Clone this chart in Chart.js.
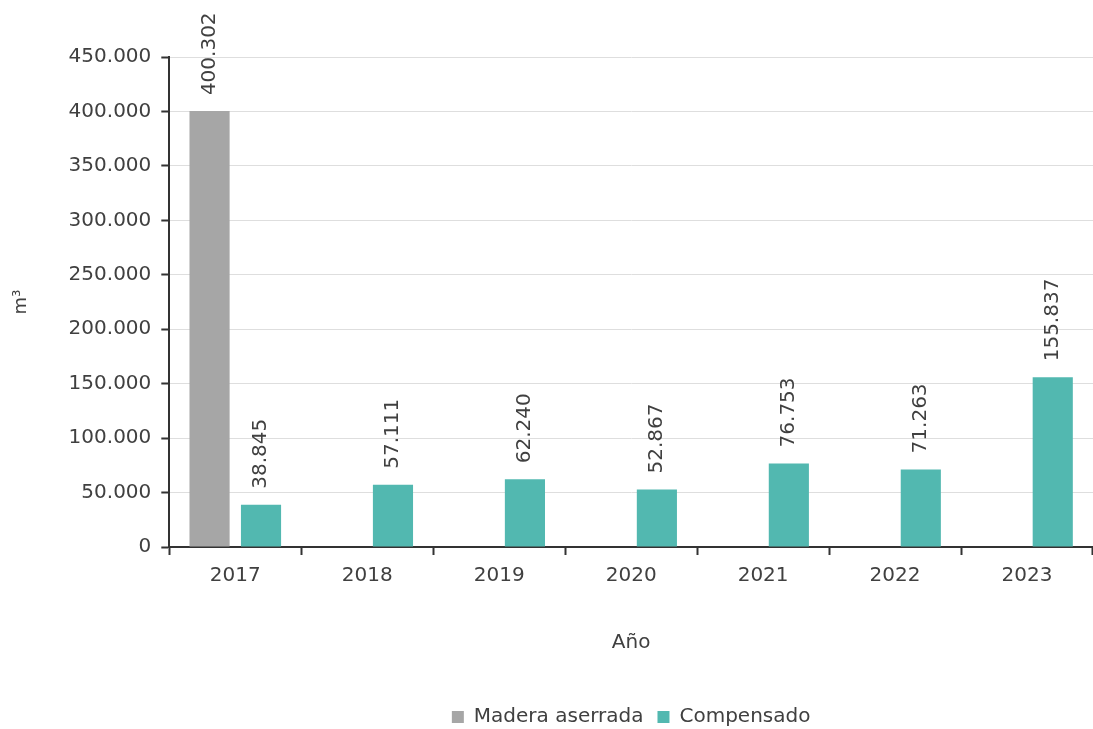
<!DOCTYPE html>
<html>
<head>
<meta charset="utf-8">
<script src="https://cdn.jsdelivr.net/npm/chart.js@4/dist/chart.umd.min.js"></script>
<style>
  html, body { margin: 0; padding: 0; background: #fff; }
  #wrap { width: 1093px; height: 729px; }
</style>
</head>
<body>
<div id="wrap"><canvas id="myChart"></canvas></div>
<script>
var years = ["2017", "2018", "2019", "2020", "2021", "2022", "2023"];
var maderaValues = [400302, null, null, null, null, null, null];
var compensadoValues = [38845, 57111, 62240, 52867, 76753, 71263, 155837];

var textColor = '#404040';
var fontName = "'DejaVu Sans', sans-serif";

function fmt(v) {
    return String(v).replace(/\B(?=(\d{3})+(?!\d))/g, '.');
}

// rotated value labels above each bar
var barLabels = {
    id: 'barLabels',
    afterDatasetsDraw: function (chart) {
        var ctx = chart.ctx;
        chart.data.datasets.forEach(function (ds, i) {
            var meta = chart.getDatasetMeta(i);
            meta.data.forEach(function (bar, j) {
                var v = ds.data[j];
                if (v === null || v === undefined) return;
                ctx.save();
                ctx.translate(bar.x, bar.y - 16);
                ctx.rotate(-Math.PI / 2);
                ctx.font = '20px ' + fontName;
                ctx.fillStyle = textColor;
                ctx.textAlign = 'left';
                ctx.textBaseline = 'middle';
                ctx.fillText(fmt(v), 0, 0);
                ctx.restore();
            });
        });
    }
};

// centre the legend under the plot area instead of the whole canvas
var legendUnderPlot = {
    id: 'legendUnderPlot',
    afterLayout: function (chart) {
        if (chart.legend) {
            chart.legend.left = chart.chartArea.left;
            chart.legend.right = chart.chartArea.right;
        }
    }
};

new Chart("myChart", {
    type: "bar",
    data: {
        labels: years,
        datasets: [{
            label: "Madera aserrada",
            backgroundColor: '#a6a6a6',
            data: maderaValues,
            categoryPercentage: 0.78,
            barPercentage: 0.78
        }, {
            label: "Compensado",
            backgroundColor: '#52b8b0',
            data: compensadoValues,
            categoryPercentage: 0.78,
            barPercentage: 0.78
        }]
    },
    options: {
        responsive: true,
        maintainAspectRatio: false,
        animation: false,
        layout: { padding: { top: 57, left: 1, right: -3, bottom: -8 } },
        plugins: {
            legend: {
                position: 'bottom',
                labels: {
                    color: textColor,
                    font: { family: fontName, size: 20 },
                    boxWidth: 12,
                    boxHeight: 12,
                    padding: 14
                }
            },
            tooltip: { enabled: false }
        },
        scales: {
            x: {
                grid: {
                    display: true,
                    offset: true,
                    drawOnChartArea: false,
                    tickLength: 8,
                    tickColor: '#333',
                    tickWidth: 2
                },
                border: { color: '#333', width: 2 },
                ticks: { color: textColor, font: { family: fontName, size: 20 }, padding: 9 },
                title: {
                    display: true,
                    text: 'Año',
                    color: textColor,
                    font: { family: fontName, size: 20 },
                    padding: { top: 34, bottom: 38 }
                }
            },
            y: {
                min: 0,
                max: 450000,
                ticks: {
                    stepSize: 50000,
                    color: textColor,
                    font: { family: fontName, size: 20 },
                    padding: 10,
                    callback: function (v) { return fmt(v); }
                },
                grid: {
                    color: '#dedede',
                    tickLength: 8,
                    tickColor: '#333',
                    tickWidth: 2
                },
                border: { color: '#333', width: 2 },
                title: {
                    display: true,
                    text: 'm³',
                    color: textColor,
                    font: { family: fontName, size: 18 },
                    padding: { top: 10, bottom: 26 }
                }
            }
        }
    },
    plugins: [barLabels, legendUnderPlot]
});
</script>
</body>
</html>
